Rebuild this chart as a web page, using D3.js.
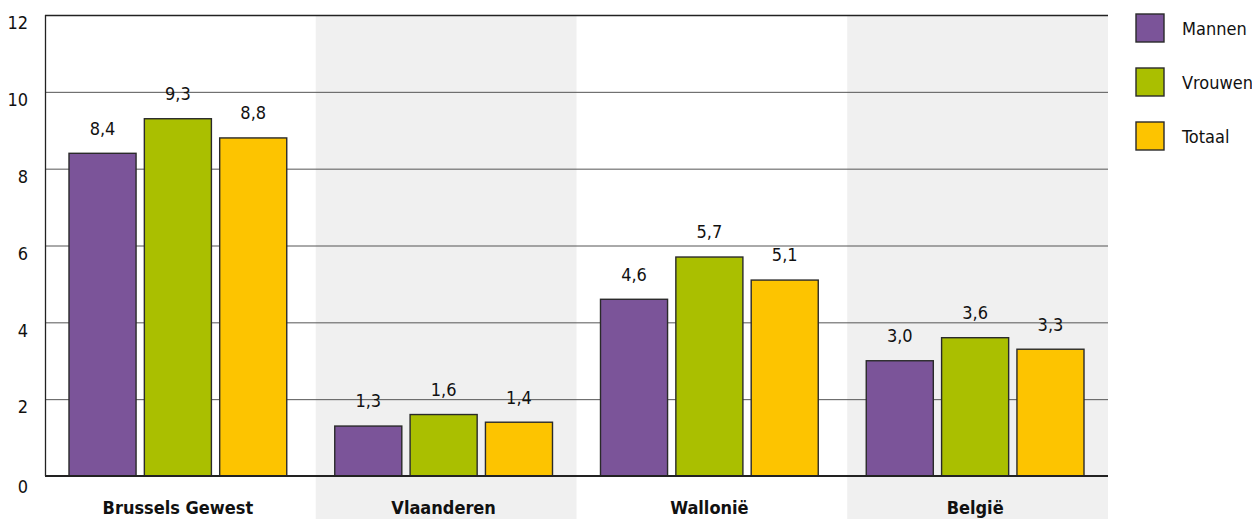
<!DOCTYPE html>
<html>
<head>
<meta charset="utf-8">
<script src="https://cdn.jsdelivr.net/npm/d3@7"></script>
<style>
  body { margin: 0; background: #fff; }
  svg text { font-family: "DejaVu Sans Condensed", "DejaVu Sans", sans-serif; font-stretch: condensed; fill: #111; }
</style>
</head>
<body>
<svg id="chart" width="1252" height="519"></svg>
<script>
// data
var regions = ["Brussels Gewest", "Vlaanderen", "Wallonië", "België"];
var seriesNames = ["Mannen", "Vrouwen", "Totaal"];
var mannen = [8.4, 1.3, 4.6, 3.0];
var vrouwen = [9.3, 1.6, 5.7, 3.6];
var totaal = [8.8, 1.4, 5.1, 3.3];
var yTicks = [0, 2, 4, 6, 8, 10, 12];
var colors = ["#7b5499", "#aabf00", "#fdc400"];

var svg = d3.select("#chart");
var margin = { top: 15, right: 144, bottom: 43, left: 45 };
var width = 1252 - margin.left - margin.right;
var height = 519 - margin.top - margin.bottom;

var seriesValues = [mannen, vrouwen, totaal];
var rows = regions.map(function(r, i) {
  return { region: r, values: seriesValues.map(function(s, j) { return { name: seriesNames[j], value: s[i] }; }) };
});

var x0 = d3.scaleBand().domain(regions).range([0, width]);
var x1 = d3.scaleBand().domain(seriesNames).range([24, x0.bandwidth() - 24]).paddingInner(0.11);
var y = d3.scaleLinear().domain([0, 12]).range([height, 0]);
var color = d3.scaleOrdinal().domain(seriesNames).range(colors);

var g = svg.append("g").attr("transform", "translate(" + margin.left + "," + margin.top + ")");

// alternating gray bands
g.selectAll("rect.band")
  .data(regions.filter(function(d, i) { return i % 2 == 1; }))
  .enter().append("rect")
  .attr("class", "band")
  .attr("x", function(d) { return x0(d) + 5; })
  .attr("y", 0)
  .attr("width", x0.bandwidth() - 5)
  .attr("height", 519 - margin.top)
  .style("fill", "#f0f0f0");

// gridlines
g.selectAll("line.grid")
  .data(yTicks.filter(function(d) { return d > 0; }))
  .enter().append("line")
  .attr("class", "grid")
  .attr("x1", 0).attr("x2", width)
  .attr("y1", function(d) { return y(d) + 0.5; })
  .attr("y2", function(d) { return y(d) + 0.5; })
  .style("stroke", function(d) { return d == 12 ? "#222" : "#555"; })
  .style("stroke-width", function(d) { return d == 12 ? 1.3 : 1; });

// y tick labels
g.selectAll("text.ytick")
  .data(yTicks)
  .enter().append("text")
  .attr("class", "ytick")
  .attr("x", -17)
  .attr("y", function(d) { return y(d) + (d == 0 ? 11 : 8); })
  .attr("dy", "0.35em")
  .style("text-anchor", "end")
  .style("font-size", "18px")
  .text(function(d) { return d; });

// bars
var groups = g.selectAll("g.region")
  .data(rows)
  .enter().append("g")
  .attr("class", "region")
  .attr("transform", function(d) { return "translate(" + x0(d.region) + ",0)"; });

groups.selectAll("rect")
  .data(function(d) { return d.values; })
  .enter().append("rect")
  .attr("x", function(d) { return x1(d.name); })
  .attr("y", function(d) { return y(d.value); })
  .attr("width", x1.bandwidth())
  .attr("height", function(d) { return height - y(d.value); })
  .style("fill", function(d) { return color(d.name); })
  .style("stroke", "#2a2a2a")
  .style("stroke-width", 1.4);

groups.selectAll("text")
  .data(function(d) { return d.values; })
  .enter().append("text")
  .attr("x", function(d) { return x1(d.name) + x1.bandwidth() / 2; })
  .attr("y", function(d) { return y(d.value) - 25; })
  .attr("dy", "0.35em")
  .style("text-anchor", "middle")
  .style("font-size", "18px")
  .text(function(d) { return d3.format(".1f")(d.value).replace(".", ","); });

// axes lines
g.append("line")
  .attr("x1", 0.5).attr("x2", 0.5)
  .attr("y1", 0).attr("y2", height)
  .style("stroke", "#222").style("stroke-width", 1.3);
g.append("line")
  .attr("x1", 0).attr("x2", width)
  .attr("y1", height).attr("y2", height)
  .style("stroke", "#222").style("stroke-width", 2);

// category labels
g.selectAll("text.cat")
  .data(regions)
  .enter().append("text")
  .attr("class", "cat")
  .attr("x", function(d) { return x0(d) + x0.bandwidth() / 2; })
  .attr("y", height + 32)
  .attr("dy", "0.35em")
  .style("text-anchor", "middle")
  .style("font-size", "18px")
  .style("font-weight", "bold")
  .text(function(d) { return d; });

// legend
var legend = svg.append("g").attr("transform", "translate(1136,14)");
var leg = legend.selectAll("g")
  .data(seriesNames)
  .enter().append("g")
  .attr("transform", function(d, i) { return "translate(0," + (i * 54) + ")"; });
leg.append("rect")
  .attr("width", 28).attr("height", 28)
  .style("fill", function(d) { return color(d); })
  .style("stroke", "#2a2a2a").style("stroke-width", 1.4);
leg.append("text")
  .attr("x", 46).attr("y", 15)
  .attr("dy", "0.35em")
  .style("font-size", "18px")
  .text(function(d) { return d; });
</script>
</body>
</html>
